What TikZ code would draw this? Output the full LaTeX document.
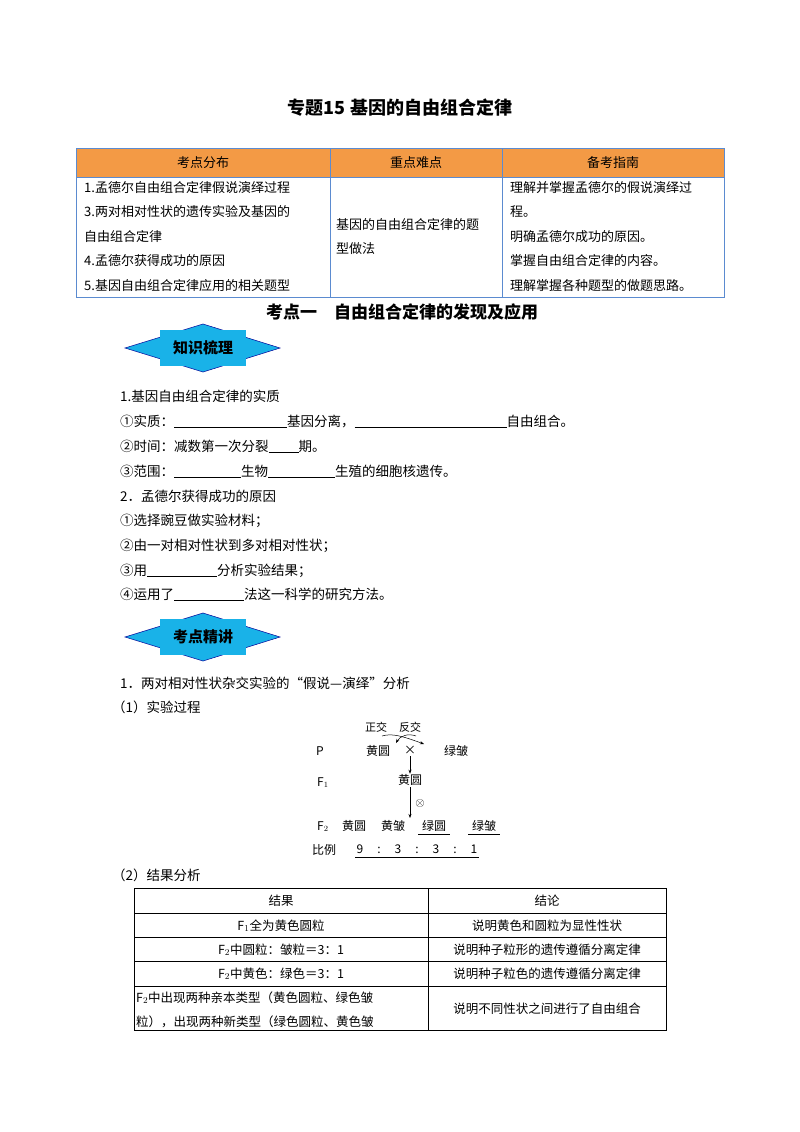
\documentclass[tikz,border=0pt]{standalone}
\usepackage{fontspec}
\setmainfont{Noto Sans CJK SC}
\usetikzlibrary{arrows.meta}
\definecolor{hdr}{HTML}{F39A45}
\definecolor{tb}{HTML}{5B8BD0}
\definecolor{badge}{HTML}{19B2E8}
\newcommand{\blank}[1]{\rule[-1.5pt]{#1pt}{0.5pt}}
\begin{document}
\begin{tikzpicture}[x=1pt,y=-1pt,
  body/.style={anchor=base west,inner sep=0pt,font=\fontsize{13.5}{14}\selectfont},
  cell/.style={anchor=base west,inner sep=0pt,font=\fontsize{13}{14}\selectfont},
  ccell/.style={anchor=base,inner sep=0pt,font=\fontsize{12.5}{14}\selectfont},
  dg/.style={anchor=base,inner sep=0pt,font=\fontsize{12}{13}\selectfont},
  badgetxt/.style={inner sep=0pt,font=\fontsize{15}{16}\selectfont\bfseries}]
\useasboundingbox (0,0) rectangle (800,1132);
\fill[white] (0,0) rectangle (800,1132);
% title
\node[anchor=base,inner sep=0pt,font=\fontsize{18}{20}\selectfont\bfseries] (title) at (400,114) {专题15 基因的自由组合定律};
% top table
\fill[hdr] (76,148) rectangle (724,177);
\draw[tb,line width=0.8pt] (76,148) rectangle (724,297) (76,177)--(724,177) (330,148)--(330,297) (502,148)--(502,297);
\node[anchor=base,inner sep=0pt,font=\fontsize{13}{14}\selectfont] (h1) at (203,167) {考点分布};
\node[anchor=base,inner sep=0pt,font=\fontsize{13}{14}\selectfont] (h2) at (416,167) {重点难点};
\node[anchor=base,inner sep=0pt,font=\fontsize{13}{14}\selectfont] (h3) at (613,167) {备考指南};
\node[cell] (l1) at (84,192) {1.孟德尔自由组合定律假说演绎过程};
\node[cell] (l2) at (84,216.5) {3.两对相对性状的遗传实验及基因的};
\node[cell] (l3) at (84,241) {自由组合定律};
\node[cell] (l4) at (84,265.5) {4.孟德尔获得成功的原因};
\node[cell] (l5) at (84,290) {5.基因自由组合定律应用的相关题型};
\node[cell] (m1) at (336,229) {基因的自由组合定律的题};
\node[cell] (m2) at (336,253.5) {型做法};
\node[cell] (r1) at (510,192) {理解并掌握孟德尔的假说演绎过};
\node[cell] (r2) at (510,216.5) {程。};
\node[cell] (r3) at (510,241) {明确孟德尔成功的原因。};
\node[cell] (r4) at (510,265.5) {掌握自由组合定律的内容。};
\node[cell] (r5) at (510,290) {理解掌握各种题型的做题思路。};
% section heading
\node[anchor=base,inner sep=0pt,font=\fontsize{17}{18}\selectfont\bfseries] (sec) at (402,318) {考点一\quad 自由组合定律的发现及应用};
% badges
\foreach \cy/\txt/\nm in {348/知识梳理/b1, 637/考点精讲/b2}{
  \filldraw[fill=badge,draw=blue!60!black,line width=0.5pt] (125,\cy)--(203,\cy-24)--(280,\cy)--(203,\cy+24)--cycle;
  \fill[badge] (160,\cy-18) rectangle (246,\cy+18);
  \node[badgetxt] (\nm) at (203,\cy) {\txt};
}
% text block 1
\node[body] (t1) at (120,401) {1.基因自由组合定律的实质};
\node[body] (t2) at (120,426) {①实质：\blank{113}基因分离，\blank{152}自由组合。};
\node[body] (t3) at (120,451) {②时间：减数第一次分裂\blank{30}期。};
\node[body] (t4) at (120,476) {③范围：\blank{67}生物\blank{67}生殖的细胞核遗传。};
\node[body] (t5) at (120,501) {2．孟德尔获得成功的原因};
\node[body] (t6) at (120,525) {①选择豌豆做实验材料；};
\node[body] (t7) at (120,550) {②由一对相对性状到多对相对性状；};
\node[body] (t8) at (120,575) {③用\blank{70}分析实验结果；};
\node[body] (t9) at (120,599) {④运用了\blank{70}法这一科学的研究方法。};
% text block 2
\node[body] (u1) at (120,688) {1．两对相对性状杂交实验的“假说—演绎”分析};
\node[body] (u2) at (112,712) {（1）实验过程};
% cross diagram
\node[dg,font=\fontsize{11}{12}\selectfont] (zj) at (376,731) {正交};
\node[dg,font=\fontsize{11}{12}\selectfont] (fj) at (410,731) {反交};
\draw[-{Stealth[length=4pt]},line width=0.5pt] (416,736) .. controls (408,733) and (400,736) .. (396,743);
\draw[-{Stealth[length=4pt]},line width=0.5pt] (382,736) .. controls (392,733) and (402,736) .. (424,744);
\node[dg,anchor=base west] (P) at (316,755) {P};
\node[dg] (pA) at (378,755) {黄圆};
\node[dg] (x) at (410,754) {×};
\node[dg] (pB) at (456,755) {绿皱};
\node[dg,anchor=base west] (F1) at (317,786) {F$_1$};
\node[dg] (f1) at (410,784) {黄圆};
\node[dg,anchor=base west] (F2) at (317,830) {F$_2$};
\node[dg] (g1) at (354,830) {黄圆};
\node[dg] (g2) at (393,830) {黄皱};
\node[dg] (g3) at (434,830) {绿圆};
\node[dg] (g4) at (484,830) {绿皱};
\draw[line width=0.5pt] (418,834)--(450,834) (468,834)--(500,834);
\node[dg,anchor=base west] (bl) at (312,854) {比例};
\node[dg] (ratio) at (417,853) {9\hspace{14pt}:\hspace{14pt}3\hspace{14pt}:\hspace{14pt}3\hspace{14pt}:\hspace{14pt}1};
\draw[line width=0.5pt] (355,857)--(479,857);
\draw[-{Stealth[length=4pt]},line width=0.5pt] (x.south) ++(0,2) coordinate (xs) (xs)--(f1.north);
\draw[-{Stealth[length=4pt]},line width=0.5pt] (f1.south)++(0,2) coordinate (fs) (fs)--(410,818);
\node[inner sep=0pt,font=\fontsize{12}{12}\selectfont] (self) at (420,803) {$\otimes$};
\node[body] (u3) at (112,880) {（2）结果分析};
% bottom table
\draw[line width=0.6pt] (134,888) rectangle (666,1030) (428,888)--(428,1030)
  (134,913)--(666,913) (134,937)--(666,937) (134,961)--(666,961) (134,986)--(666,986);
\node[ccell] (a0) at (281,905) {结果};
\node[ccell] (b0) at (547,905) {结论};
\node[ccell] (a1) at (281,930) {F$_1$全为黄色圆粒};
\node[ccell] (b1) at (547,930) {说明黄色和圆粒为显性性状};
\node[ccell] (a2) at (281,954) {F$_2$中圆粒：皱粒＝3：1};
\node[ccell] (b2) at (547,954) {说明种子粒形的遗传遵循分离定律};
\node[ccell] (a3) at (281,978) {F$_2$中黄色：绿色＝3：1};
\node[ccell] (b3) at (547,978) {说明种子粒色的遗传遵循分离定律};
\node[ccell,anchor=base west] (a4) at (136,1002) {F$_2$中出现两种亲本类型（黄色圆粒、绿色皱};
\node[ccell,anchor=base west] (a5) at (136,1026) {粒），出现两种新类型（绿色圆粒、黄色皱};
\node[ccell] (b4) at (547,1013) {说明不同性状之间进行了自由组合};
\end{tikzpicture}
\end{document}
